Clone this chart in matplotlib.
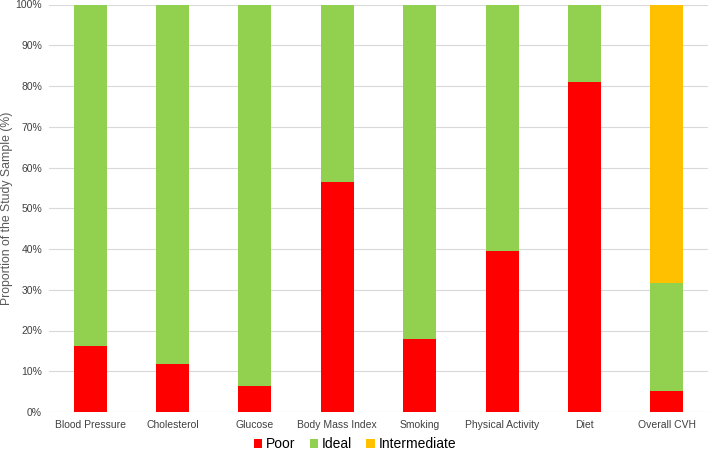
import matplotlib
matplotlib.use("Agg")
import matplotlib.pyplot as plt
import numpy as np
from matplotlib.ticker import PercentFormatter

plt.rcParams['font.family'] = ['Liberation Sans', 'DejaVu Sans']

categories = ["Blood Pressure", "Cholesterol", "Glucose", "Body Mass Index",
              "Smoking", "Physical Activity", "Diet", "Overall CVH"]
poor = [16.3, 11.9, 6.3, 56.4, 18.0, 39.6, 81.0, 5.1]
ideal = [83.7, 88.1, 93.7, 43.6, 82.0, 60.4, 19.0, 26.5]
intermediate = [0, 0, 0, 0, 0, 0, 0, 68.4]

fig = plt.figure(figsize=(7.09, 4.5), dpi=100)
ax = fig.add_axes([49 / 709, 1 - 412 / 450, 659 / 709, 407.5 / 450])

x = np.arange(len(categories))
w = 0.4
poor = np.array(poor)
ideal = np.array(ideal)
intermediate = np.array(intermediate)
ax.bar(x, poor, w, color="#FF0000", label="Poor", zorder=3)
ax.bar(x, ideal, w, bottom=poor, color="#92D050", label="Ideal", zorder=3)
ax.bar(x, intermediate, w, bottom=poor + ideal, color="#FFC000",
       label="Intermediate", zorder=3)

ax.set_xlim(-0.5, len(categories) - 0.5)
ax.set_ylim(0, 100)
ax.set_yticks(np.arange(0, 101, 10))
ax.yaxis.set_major_formatter(PercentFormatter(decimals=0))
ax.set_xticks(x)
ax.set_xticklabels(categories)
ax.grid(axis="y", color="#D9D9D9", linewidth=0.8, zorder=0)
for s in ax.spines.values():
    s.set_visible(False)
ax.tick_params(length=0, labelsize=7.5, colors="#404040", pad=5)
ax.tick_params(axis="x", pad=6)
ax.set_ylabel("Proportion of the Study Sample (%)", fontsize=8.8, color="#595959")
ax.yaxis.set_label_coords(-36 / 659, 0.5)

ax.legend(loc="center", bbox_to_anchor=(355 / 709, 1 - 444 / 450),
          bbox_transform=fig.transFigure,
          ncol=3, frameon=False, fontsize=10, handlelength=0.6, handleheight=0.6,
          handletextpad=0.3, columnspacing=1.0, borderpad=0)

fig.savefig("out.png", dpi=100)
